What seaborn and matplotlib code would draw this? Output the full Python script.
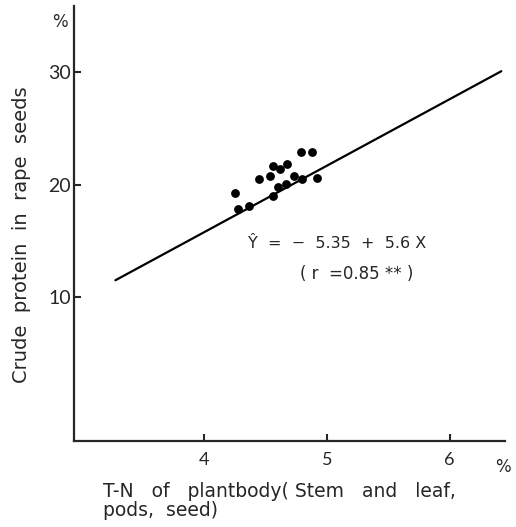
import matplotlib
matplotlib.use("Agg")
import matplotlib.pyplot as plt
import seaborn as sns
import pandas as pd

# T-N of plant body (%) vs crude protein in rape seeds (%)
tn_plant = [4.25, 4.28, 4.37, 4.45, 4.54, 4.56, 4.62, 4.68, 4.60, 4.56,
            4.67, 4.73, 4.80, 4.79, 4.88, 4.92]
crude_protein = [19.3, 17.8, 18.1, 20.5, 20.8, 21.7, 21.4, 21.8, 19.8, 19.0,
                 20.1, 20.8, 20.5, 22.9, 22.9, 20.6]

# regression line as drawn (Y = -5.35 + 5.6 X)
line_x = [3.28, 6.42]
line_y = [11.5, 30.1]

x_ticks = [4, 5, 6]
y_ticks = [10, 20, 30]

sns.set_style("ticks")
plt.rcParams['font.family'] = ['DejaVu Sans']

df = pd.DataFrame({'tn': tn_plant, 'cp': crude_protein})
line_df = pd.DataFrame({'x': line_x, 'y': line_y})

fig = plt.figure(figsize=(5.16, 5.27), dpi=100)
ax = fig.add_axes([0.1434, 0.1632, 0.8353, 0.8254])

sns.lineplot(data=line_df, x='x', y='y', color='black', linewidth=1.6, ax=ax)
sns.scatterplot(data=df, x='tn', y='cp', color='black', s=40, edgecolor='black',
                linewidth=0, ax=ax)

ax.set_xlim(2.943, 6.45)
ax.set_ylim(-2.8, 35.9)
ax.set_xticks(x_ticks)
ax.set_yticks(y_ticks)
ax.set_xticklabels([str(v) for v in x_ticks], fontsize=13, family='Lato')
ax.set_yticklabels([str(v) for v in y_ticks], fontsize=14, family='Lato')
ax.tick_params(axis='both', direction='in', length=5, width=1.5)
ax.tick_params(axis='x', pad=8)
ax.tick_params(axis='y', pad=2)
sns.despine(ax=ax)
for sp in ['left', 'bottom']:
    ax.spines[sp].set_linewidth(1.6)

ax.set_xlabel('')
ax.set_ylabel('Crude  protein  in  rape  seeds', fontsize=14, labelpad=16)
ax.yaxis.set_label_coords(-0.1, 0.474)

ax.text(-0.015, 0.985, '%', transform=ax.transAxes, fontsize=12, ha='right', va='top')
ax.text(6.37, -4.3, '%', fontsize=12, ha='left', va='top', clip_on=False)

ax.text(4.36, 14.8, 'Ŷ  =  −  5.35  +  5.6 X', fontsize=11.5, va='center')
ax.text(4.78, 12.1, '( r  =0.85 ** )', fontsize=12, va='center')

fig.text(0.2, 0.049, 'T-N   of   plantbody( Stem   and   leaf,\npods,  seed)',
         fontsize=13.5, ha='left', va='center', linespacing=1.0)

fig.savefig('out.png', dpi=100)
